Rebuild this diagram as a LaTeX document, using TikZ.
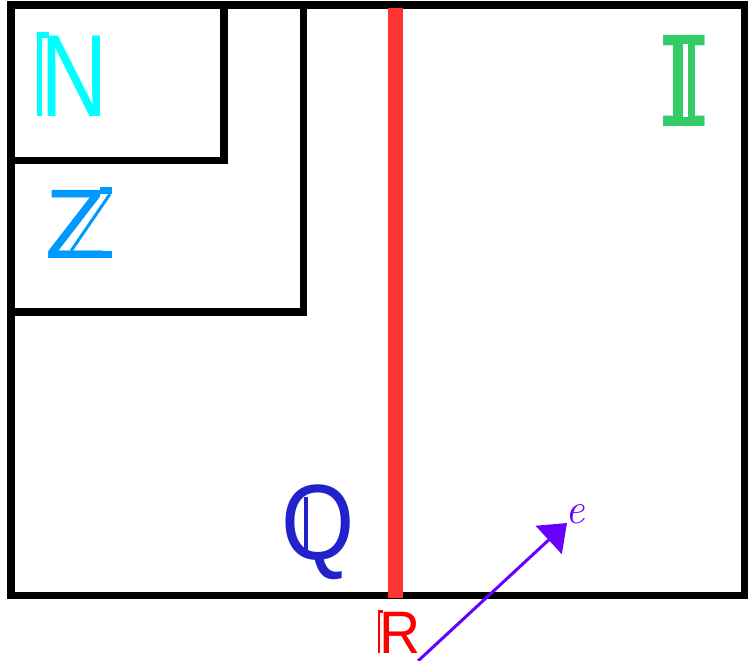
\documentclass[tikz,border=0pt]{standalone}
\usepackage{fontspec}
\newfontfamily\lsans{Liberation Sans}
\newfontfamily\dmono{DejaVu Sans Mono}
\usetikzlibrary{arrows.meta}
\definecolor{cN}{HTML}{00FFFF}
\definecolor{cZ}{HTML}{0099FF}
\definecolor{cI}{HTML}{33CC66}
\definecolor{cQ}{HTML}{2222CC}
\definecolor{cR}{HTML}{FF0000}
\definecolor{cLine}{HTML}{FF3333}
\definecolor{cArrow}{HTML}{6600FF}
\tikzset{
  setbox/.style={line width=7.5pt, draw=black, line join=miter},
  setlabel/.style={inner sep=0pt, anchor=base},
}
\begin{document}
\begin{tikzpicture}[x=1pt,y=-1pt]
\useasboundingbox (0,0) rectangle (755,661);
% outer rectangle (Q)
\draw[setbox] (11,5) rectangle (744.5,595.5);
% Z box
\draw[setbox] (11,5) rectangle (303.5,312);
% N box
\draw[setbox] (11,5) rectangle (224,160.5);
% R line
\draw[line width=15pt, cLine] (395,8.5) -- (395,598);
% N
\node[setlabel, text=cN, xscale=0.8, font=\lsans\fontsize{117}{117}\selectfont] (N) at (74,116) {N};
\fill[cN] (37,32) rectangle (42,116);
\fill[cN] (37,32) rectangle (49,38);
% Z
\node[setlabel, text=cZ, xscale=1.0, font=\lsans\fontsize{99}{99}\selectfont] (Z) at (76,258) {Z};
\fill[cZ] (100,187) rectangle (112,194);
\fill[cZ] (100,251) rectangle (112,258);
\draw[cZ, line width=3pt] (110,194) -- (71,251);
% I
\node[setlabel, text=cI, xscale=0.82, font=\dmono\fontsize{125}{125}\selectfont] (I) at (684.5,126) {I};
\fill[white] (683,44) rectangle (688,117);
\fill[cI] (673,44) rectangle (683,117);
\fill[cI] (688,44) rectangle (695,117);
% Q
\node[setlabel, text=cQ, xscale=0.88, font=\lsans\fontsize{107}{107}\selectfont] (Q) at (318.5,559) {Q};
\fill[cQ] (304,497) rectangle (307.5,555);
% R
\node[setlabel, text=cR, xscale=0.95, font=\lsans\fontsize{60}{60}\selectfont] (R) at (400,653) {R};
\fill[cR] (377.5,610) rectangle (380,653);
\fill[cR] (377.5,610) rectangle (383,613);
% e
\node[setlabel, text=cArrow, font=\fontsize{43}{43}\selectfont\itshape] (e) at (575,523) {e};
\coordinate (start) at (418,661);
\coordinate (tip) at (567,523);
\draw[line width=3pt, cArrow, -{Triangle[length=25pt,width=38pt]}] (start) -- (tip);
\end{tikzpicture}
\end{document}
